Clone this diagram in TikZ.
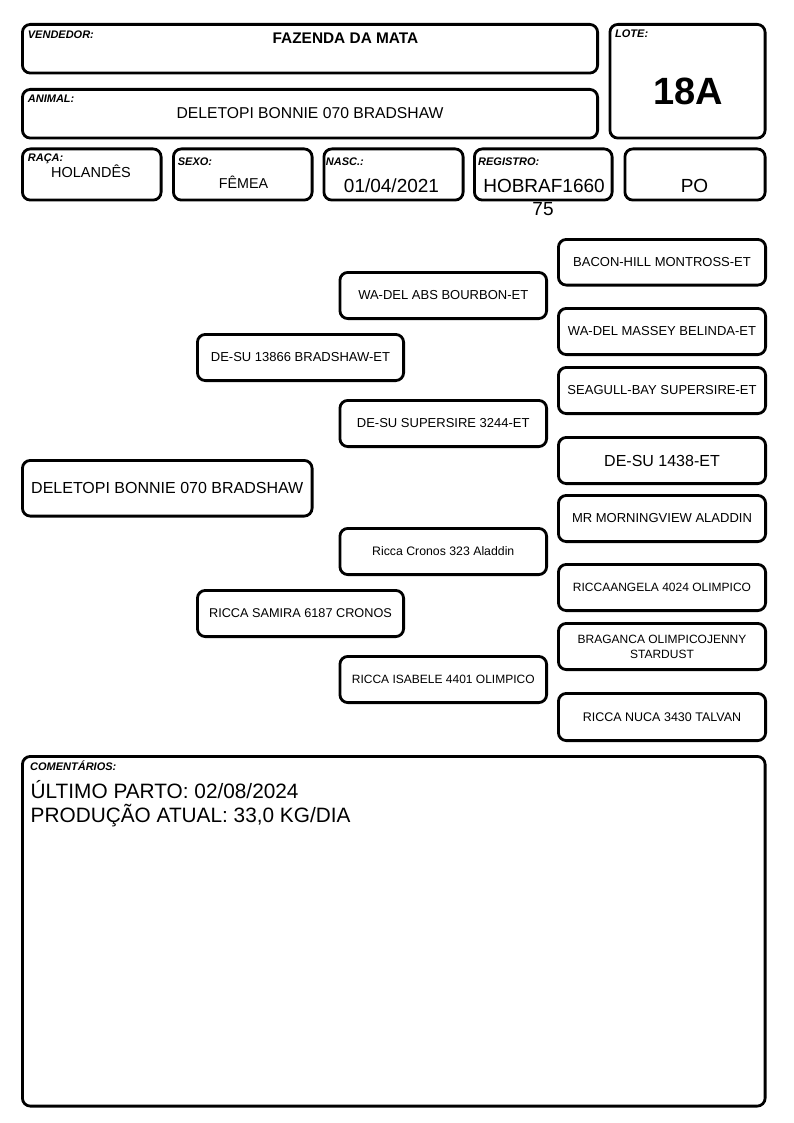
\documentclass[tikz,border=0pt]{standalone}
\usepackage{fontspec}
\setmainfont{Liberation Sans}
\newcommand\pedbox[7]{\node[box, minimum width={#4-#2-2.8}, minimum height={#5-#3-2.8}, font=#6] (#1) at ({(#2+#4)/2},{(#3+#5)/2}) {#7};}
\newcommand\fs[1]{\fontsize{#1}{#1}\selectfont}
\begin{document}
\begin{tikzpicture}[x=1pt,y=-1pt,
  box/.style={draw=black, line width=2.8pt, rounded corners=8pt, inner sep=0pt, align=center},
  lbl/.style={anchor=base west, inner sep=0pt, font=\fs{11}\bfseries\itshape},
  val/.style={anchor=base, inner sep=0pt}]
\useasboundingbox[fill=white] (0,0) rectangle (794,1123);
% header boxes
\pedbox{vend}{21}{23}{599}{74.5}{\fs{10}}{}
\pedbox{anim}{21}{88}{599}{139.5}{\fs{10}}{}
\pedbox{lote}{608.5}{23}{766.5}{139.5}{\fs{10}}{}
\pedbox{raca}{21}{147.5}{162.5}{201.5}{\fs{10}}{}
\pedbox{sexo}{172}{147.5}{313.5}{201.5}{\fs{10}}{}
\pedbox{nasc}{322.5}{147.5}{464.5}{201.5}{\fs{10}}{}
\pedbox{reg}{473}{147.5}{613.5}{201.5}{\fs{10}}{}
\pedbox{po}{623.5}{147.5}{766.5}{201.5}{\fs{10}}{}
\pedbox{com}{21}{755}{766.5}{1107.5}{\fs{10}}{}
% labels
\node[lbl] (lvend) at (27.7,38.7) {VENDEDOR:};
\node[lbl] (lanim) at (27.7,103) {ANIMAL:};
\node[lbl] (llote) at (615,38) {LOTE:};
\node[lbl] (lraca) at (27.7,162) {RAÇA:};
\node[lbl] (lsexo) at (177.7,165.5) {SEXO:};
\node[lbl] (lnasc) at (325.7,165.5) {NASC.:};
\node[lbl] (lreg) at (478,165.5) {REGISTRO:};
\node[lbl] (lcom) at (30,770.7) {COMENTÁRIOS:};
% values
\node[val, font=\fs{15.4}\bfseries] (tvend) at (345.5,43.4) {FAZENDA DA MATA};
\node[val, font=\fs{15.7}] (tanim) at (310,118.6) {DELETOPI BONNIE 070 BRADSHAW};
\node[val, font=\fs{38}\bfseries] (tlote) at (688,104.6) {18A};
\node[val, font=\fs{14.5}] (traca) at (91,178) {HOLANDÊS};
\node[val, font=\fs{14.3}] (tsexo) at (243.5,189) {FÊMEA};
\node[val, font=\fs{19}] (tnasc) at (391.5,193) {01/04/2021};
\node[val, font=\fs{19}] (treg) at (544,193) {HOBRAF1660};
\node[val, font=\fs{19}] (treg2) at (543,215) {75};
\node[val, font=\fs{19}] (tpo) at (694.5,193) {PO};
\node[anchor=base west, inner sep=0pt, font=\fs{20.8}] (tc1) at (30.5,798.7) {ÚLTIMO PARTO: 02/08/2024};
\node[anchor=base west, inner sep=0pt, font=\fs{20.8}] (tc2) at (30.5,822.7) {PRODUÇÃO ATUAL: 33,0 KG/DIA};
% pedigree
\pedbox{p0}{21}{459}{313.5}{517.5}{\fs{16}}{DELETOPI BONNIE 070 BRADSHAW}
\pedbox{s}{196}{333}{405}{382}{\fs{13}}{DE-SU 13866 BRADSHAW-ET}
\pedbox{d}{196}{589}{405}{638}{\fs{12.7}}{RICCA SAMIRA 6187 CRONOS}
\pedbox{ss}{338.5}{271}{548}{320}{\fs{13}}{WA-DEL ABS BOURBON-ET}
\pedbox{sd}{338.5}{399}{548}{448}{\fs{13}}{DE-SU SUPERSIRE 3244-ET}
\pedbox{ds}{338.5}{527}{548}{576}{\fs{12.3}}{Ricca Cronos 323 Aladdin}
\pedbox{dd}{338.5}{655}{548}{704}{\fs{12}}{RICCA ISABELE 4401 OLIMPICO}
\pedbox{sss}{557}{238}{767}{286.5}{\fs{13}}{BACON-HILL MONTROSS-ET}
\pedbox{ssd}{557}{307}{767}{356}{\fs{13}}{WA-DEL MASSEY BELINDA-ET}
\pedbox{sds}{557}{366}{767}{415}{\fs{13}}{SEAGULL-BAY SUPERSIRE-ET}
\pedbox{sdd}{557}{436}{767}{485}{\fs{16}}{DE-SU 1438-ET}
\pedbox{dss}{557}{494}{767}{543}{\fs{13}}{MR MORNINGVIEW ALADDIN}
\pedbox{dsd}{557}{563}{767}{612}{\fs{12}}{RICCAANGELA 4024 OLIMPICO}
\pedbox{dds}{557}{622}{767}{671}{\fontsize{12}{15}\selectfont}{BRAGANCA OLIMPICOJENNY\\STARDUST}
\pedbox{ddd}{557}{692}{767}{742}{\fs{12.5}}{RICCA NUCA 3430 TALVAN}
\end{tikzpicture}
\end{document}
